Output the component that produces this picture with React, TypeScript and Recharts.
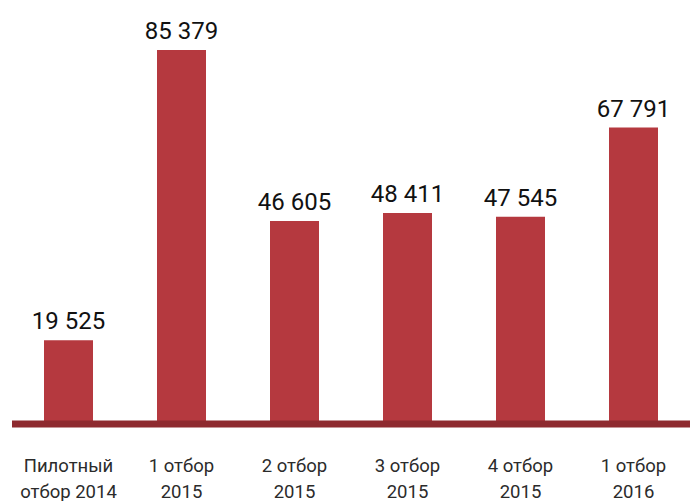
import { BarChart, Bar, XAxis, YAxis, LabelList } from "recharts";

const categories = [
  "Пилотный\nотбор 2014",
  "1 отбор\n2015",
  "2 отбор\n2015",
  "3 отбор\n2015",
  "4 отбор\n2015",
  "1 отбор\n2016",
];
const values = [19525, 85379, 46605, 48411, 47545, 67791];
const valueLabels = ["19 525", "85 379", "46 605", "48 411", "47 545", "67 791"];

const data = categories.map((name, i) => ({
  name,
  value: values[i],
  label: valueLabels[i],
}));

const FONT = "Roboto, 'DejaVu Sans Condensed', sans-serif";

function CategoryTick({ x, y, payload }: any) {
  const lines = String(payload.value).split("\n");
  return (
    <text
      x={x}
      y={y}
      textAnchor="middle"
      fill="#2b2b2b"
      fontSize={18.5}
      fontFamily={FONT}
    >
      {lines.map((line, i) => (
        <tspan key={i} x={x} dy={i === 0 ? 43 : 26}>
          {line}
        </tspan>
      ))}
    </text>
  );
}

function ValueLabel({ x, y, width, value }: any) {
  return (
    <text
      x={x + width / 2}
      y={y - 11}
      textAnchor="middle"
      fill="#111"
      fontSize={24}
      fontFamily={FONT}
    >
      {value}
    </text>
  );
}

export default function App() {
  return (
    <div style={{ position: "absolute", left: 0, top: 0, background: "#fff" }}>
      <BarChart
        width={691}
        height={501}
        data={data}
        margin={{ top: 50, right: 1, bottom: 0, left: 12 }}
      >
        <YAxis hide domain={[1200, 85379]} allowDataOverflow />
        <Bar
          dataKey="value"
          fill="#b5393f"
          barSize={49}
          isAnimationActive={false}
        >
          <LabelList dataKey="label" content={<ValueLabel />} />
        </Bar>
        <XAxis
          dataKey="name"
          interval={0}
          tickLine={false}
          axisLine={{
            stroke: "#8e2a2f",
            strokeWidth: 7,
            transform: "translate(0,3)",
          }}
          tick={<CategoryTick />}
          height={80}
        />
      </BarChart>
    </div>
  );
}
